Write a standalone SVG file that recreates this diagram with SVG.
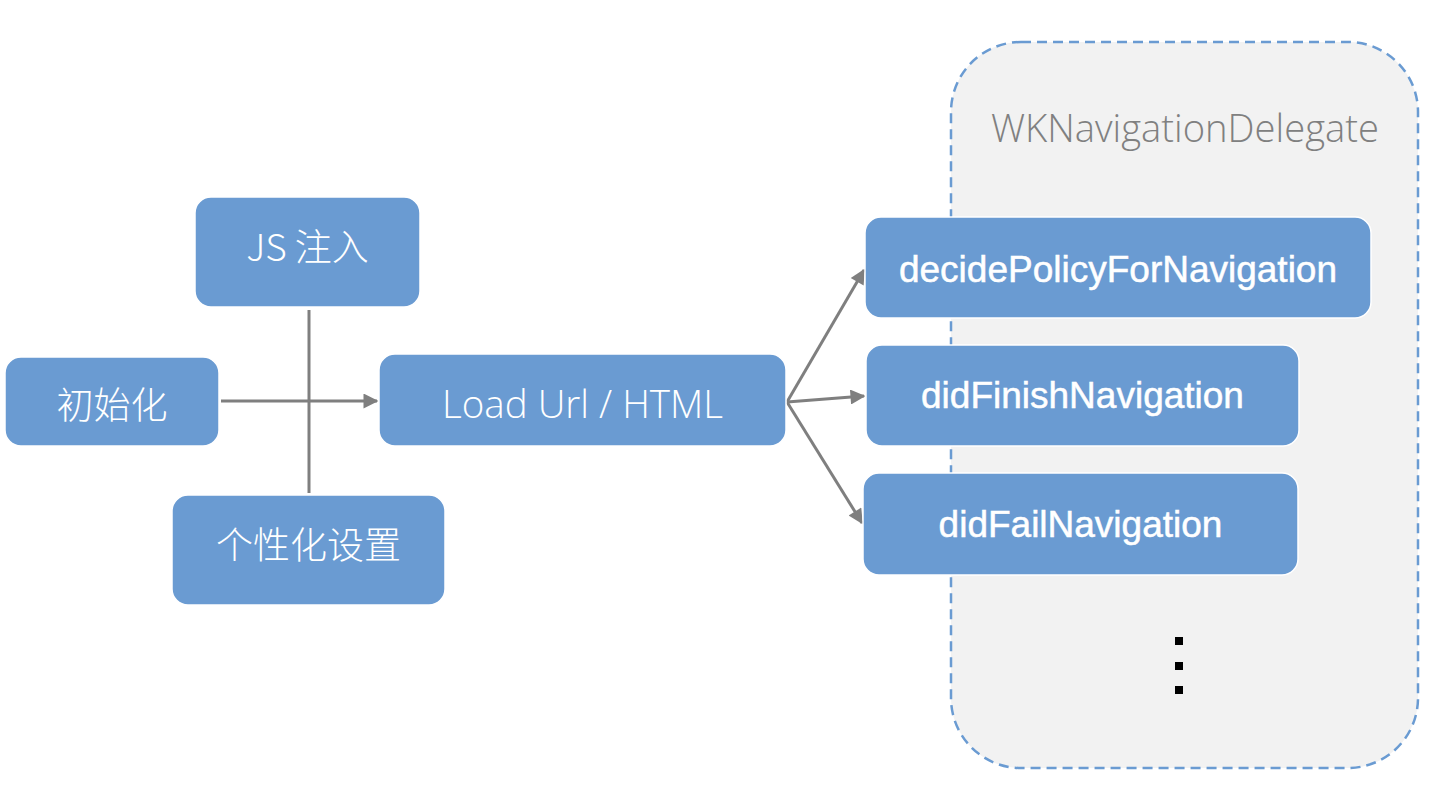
<svg xmlns="http://www.w3.org/2000/svg" width="1446" height="804" viewBox="0 0 1446 804">
<defs>
<style>
.box{fill:#6a9bd2;stroke:#ffffff;stroke-width:1.5}
.lt{font-family:"Open Sans","Noto Sans CJK SC",sans-serif;font-weight:300;fill:#ffffff;text-anchor:middle}
.cjk{font-family:"Noto Sans CJK SC","Open Sans",sans-serif;font-weight:300;fill:#ffffff;text-anchor:middle;font-size:37px}
.md{font-family:"Liberation Sans",Arial,sans-serif;fill:#ffffff;stroke:#ffffff;stroke-width:0.5;text-anchor:middle;font-size:37px}
.conn{stroke:#7f7f7f;stroke-width:3;fill:none}
</style>
<marker id="ah" viewBox="0 0 10 10" refX="9" refY="5" markerWidth="5.5" markerHeight="5" orient="auto" markerUnits="strokeWidth">
<path d="M0,0 L10,5 L0,10 z" fill="#7f7f7f"/>
</marker>
</defs>
<rect width="1446" height="804" fill="#ffffff"/>
<g id="container">
<rect x="951" y="42" width="467" height="726" rx="70" ry="70" fill="#f2f2f2" stroke="#6a9bd2" stroke-width="2.5" stroke-dasharray="10 6"/>
<text x="1185" y="142" font-family="Open Sans, sans-serif" font-weight="300" font-size="38.2" fill="#808080" text-anchor="middle">WKNavigationDelegate</text>
<rect x="1175" y="637" width="8" height="8" fill="#000000"/>
<rect x="1175" y="662" width="8" height="8" fill="#000000"/>
<rect x="1175" y="686" width="8" height="8" fill="#000000"/>
</g>
<g id="connectors">
<line class="conn" x1="309" y1="310" x2="309" y2="493"/>
<line class="conn" x1="221" y1="401" x2="377" y2="401" marker-end="url(#ah)"/>
<line class="conn" x1="787" y1="402" x2="864" y2="270" marker-end="url(#ah)"/>
<line class="conn" x1="787" y1="402" x2="864" y2="396" marker-end="url(#ah)"/>
<line class="conn" x1="787" y1="402" x2="862" y2="523" marker-end="url(#ah)"/>
</g>
<g id="js">
<rect class="box" x="195" y="197" width="225" height="110" rx="16"/>
<text class="cjk" x="307.5" y="261">JS 注入</text>
</g>
<g id="init">
<rect class="box" x="5" y="357" width="214" height="89" rx="16"/>
<text class="cjk" x="112" y="419">初始化</text>
</g>
<g id="custom">
<rect class="box" x="172" y="495" width="273" height="110" rx="16"/>
<text class="cjk" x="308.5" y="559">个性化设置</text>
</g>
<g id="load">
<rect class="box" x="379" y="354" width="407" height="92" rx="16"/>
<text class="lt" x="582.5" y="418" font-size="38.5">Load Url / HTML</text>
</g>
<g id="decide">
<rect class="box" x="865" y="217" width="506" height="101" rx="16"/>
<text class="md" x="1118" y="282">decidePolicyForNavigation</text>
</g>
<g id="finish">
<rect class="box" x="866" y="345" width="433" height="101" rx="16"/>
<text class="md" x="1082.5" y="408">didFinishNavigation</text>
</g>
<g id="fail">
<rect class="box" x="863" y="473" width="435" height="102" rx="16"/>
<text class="md" x="1080.5" y="537">didFailNavigation</text>
</g>
</svg>
